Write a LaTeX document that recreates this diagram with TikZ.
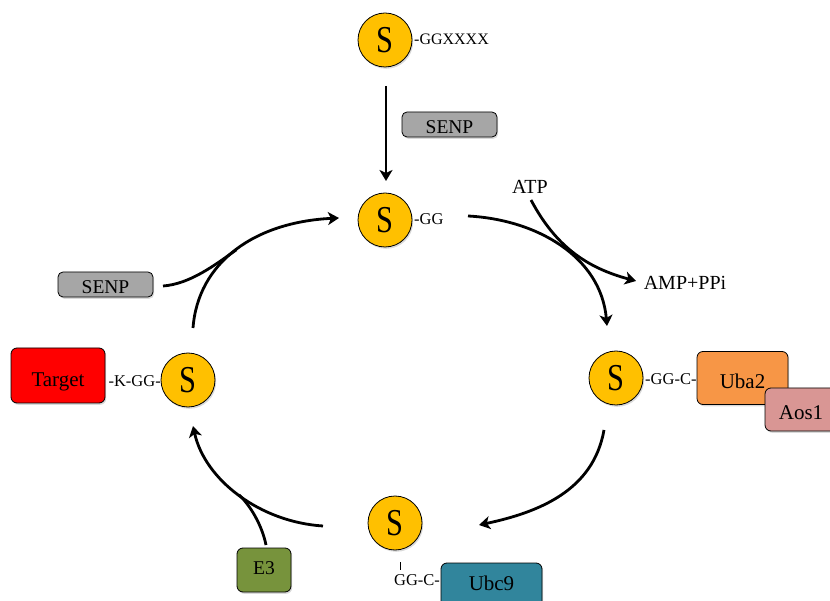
\documentclass[tikz,border=0pt]{standalone}
\usepackage{fontspec}
\setmainfont{Liberation Serif}
\newfontfamily\sletter{Liberation Serif}[FakeStretch=0.8]
\usetikzlibrary{arrows.meta,shadows}
\definecolor{sgold}{HTML}{FFC000}
\definecolor{sgray}{HTML}{A6A6A6}
\definecolor{sred}{HTML}{FF0000}
\definecolor{sorange}{HTML}{F79646}
\definecolor{spink}{HTML}{D99694}
\definecolor{steal}{HTML}{31859C}
\definecolor{solive}{HTML}{77933C}
\tikzset{
  shd/.style={drop shadow={shadow xshift=1.2pt,shadow yshift=-1.8pt,opacity=0.3}},
  sumo/.style={circle,draw=black,line width=0.8pt,fill=sgold,minimum size=54pt,inner sep=0pt,shd,
    font=\sletter\fontsize{38}{40}\selectfont,text height=25pt,text depth=0pt},
  lbl/.style={inner sep=0pt,font=\fontsize{16.5}{18}\selectfont},
  big/.style={inner sep=0pt,font=\fontsize{20}{22}\selectfont},
  pbox/.style={draw=black,line width=0.8pt,rounded corners=6pt,inner sep=0pt,shd,
    font=\fontsize{21}{24}\selectfont,text depth=0pt},
  capbox/.style={pbox,font=\fontsize{19.5}{22}\selectfont},
  flow/.style={line width=2.8pt,-{Stealth[length=11pt,width=13pt,inset=3pt]}},
  feed/.style={line width=2.8pt},
}
\begin{document}
\begin{tikzpicture}[x=1pt,y=-1pt]
\useasboundingbox (0,0) rectangle (830,601);
% SUMO states
\node[sumo] (s1) at (385,40) {S};
\node[lbl,anchor=west,font=\fontsize{16}{18}\selectfont] (l1) at (414,39) {-GGXXXX};
\node[sumo] (s2) at (385,220) {S};
\node[lbl,anchor=west] (l2) at (414,219) {-GG};
\node[sumo] (s3) at (616,378) {S};
\node[lbl,anchor=west] (l3) at (645,379) {-GG-C-};
\node[sumo] (s4) at (395,523) {S};
\node[lbl] (l4) at (417,580) {GG-C-};
\node[sumo] (s5) at (188,380) {S};
\node[lbl,anchor=east] (l5) at (161,381) {-K-GG-};
% proteins
\node[pbox,fill=sorange,minimum width=91pt,minimum height=53pt,text height=22pt] (uba2) at (742.5,378) {Uba2};
\node[pbox,fill=spink,minimum width=72pt,minimum height=43pt,text height=20pt] (aos1) at (801,409.5) {Aos1};
\node[pbox,fill=steal,minimum width=101pt,minimum height=44pt,text height=10pt] (ubc9) at (491.5,585) {Ubc9};
\node[pbox,fill=sred,minimum width=94pt,minimum height=55pt,text height=22pt] (target) at (58,375.5) {Target};
\node[capbox,fill=solive,minimum width=54pt,minimum height=44pt,text height=9pt] (e3) at (264,570) {E3};
\node[capbox,fill=sgray,minimum width=95pt,minimum height=25pt,rounded corners=5pt,text height=18pt] (senpa) at (449.5,124.5) {SENP};
\node[capbox,fill=sgray,minimum width=95pt,minimum height=25pt,rounded corners=5pt,text height=18pt] (senpb) at (105.5,284.5) {SENP};
\node[big] (atp) at (530,187) {ATP};
\node[big] (amp) at (685,283) {AMP+PPi};
% connector end points
\coordinate (a1s) at (386,86);
\coordinate (a1e) at (386,181);
\coordinate (a2s) at (468,216);
\coordinate (a2e) at (607,326);
\coordinate (a3s) at (531,200);
\coordinate (a3e) at (636,281);
\coordinate (a4s) at (604,430);
\coordinate (a4e) at (479,525);
\coordinate (a5s) at (323,526);
\coordinate (a5e) at (193,426);
\coordinate (a6s) at (266,545);
\coordinate (a6m) at (238.9,494.75);
\coordinate (a7s) at (193,328);
\coordinate (a7e) at (339,218);
\coordinate (a8s) at (163,286);
\coordinate (a8m) at (236.4,249.75);
\coordinate (t1) at (400,562);
\coordinate (t2) at (400,570);
% connectors
\draw[line width=0.7pt] (t1) -- (t2);
\draw[flow] (a1s) -- (a1e);
\draw[flow] (a2s) to[out=-3,in=95] (a2e);
\draw[flow] (a3s) to[out=-62,in=165] (a3e);
\draw[flow] (a4s) to[out=-100,in=12] (a4e);
\draw[feed] (a6s) .. controls (262,525) and (250,505) .. (a6m);
\draw[flow] (a5s) .. controls (260,522) and (205,480) .. (a5e);
\draw[feed] (a8s) .. controls (190,284) and (215,265) .. (a8m);
\draw[flow] (a7s) .. controls (198,262) and (255,222) .. (a7e);
\end{tikzpicture}
\end{document}
